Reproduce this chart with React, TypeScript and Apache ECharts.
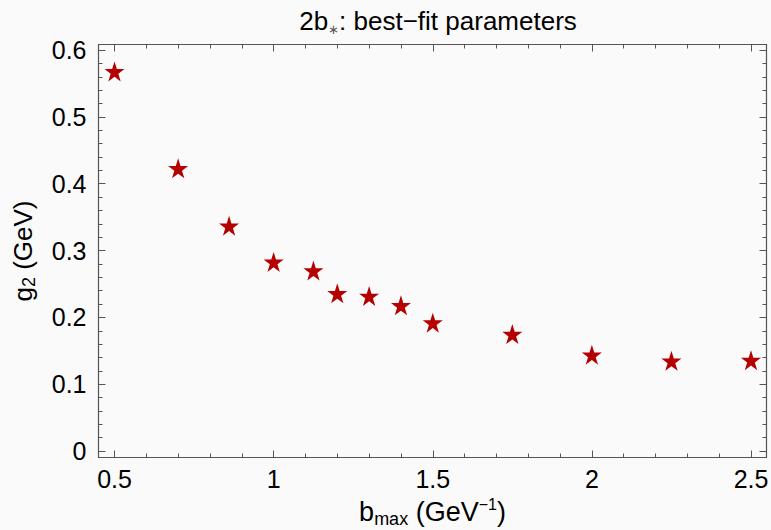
import React, { useEffect, useRef } from "react";
import * as echarts from "echarts";

const bMax = [0.5, 0.7, 0.86, 1.0, 1.125, 1.2, 1.3, 1.4, 1.5, 1.75, 2.0, 2.25, 2.5];
const g2 = [0.568, 0.423, 0.337, 0.283, 0.270, 0.236, 0.232, 0.218, 0.192, 0.175, 0.144, 0.135, 0.136];

const xMajorTicks = [0.5, 1, 1.5, 2, 2.5];
const yMajorTicks = [0, 0.1, 0.2, 0.3, 0.4, 0.5, 0.6];

const X_MIN = 0.4497;
const X_MAX = 2.5487;
const Y_MIN = -0.0096;
const Y_MAX = 0.6083;

const steps = (from: number, to: number, step: number) => {
  const out: number[] = [];
  const n = Math.round((to - from) / step);
  for (let i = 0; i <= n; i++) out.push(Math.round((from + i * step) * 1000) / 1000);
  return out;
};
const xMinorTicks = steps(0.5, 2.5, 0.1);
const yMinorTicks = steps(0, 0.6, 0.02);

const FONT = "Liberation Sans, Arial, sans-serif";
const FRAME = "#555555";

export default function App() {
  const ref = useRef<HTMLDivElement>(null);
  useEffect(() => {
    if (!ref.current) return;
    const chart = echarts.init(ref.current, undefined, { renderer: "svg" });

    const mkX = (position: "bottom" | "top", ticks: number[], len: number, labels: boolean) => ({
      type: "value",
      position,
      min: X_MIN,
      max: X_MAX,
      axisLine: { show: false, onZero: false },
      splitLine: { show: false },
      axisTick: { show: true, inside: true, length: len, customValues: ticks, lineStyle: { color: FRAME, width: 1 } },
      axisLabel: labels
        ? {
            show: true,
            customValues: xMajorTicks,
            margin: 9,
            color: "#000",
            fontSize: 25,
            fontFamily: FONT,
            formatter: (v: number) => String(v),
          }
        : { show: false },
    });
    const mkY = (position: "left" | "right", ticks: number[], len: number, labels: boolean) => ({
      type: "value",
      position,
      min: Y_MIN,
      max: Y_MAX,
      axisLine: { show: false, onZero: false },
      splitLine: { show: false },
      axisTick: { show: true, inside: true, length: len, customValues: ticks, lineStyle: { color: FRAME, width: 1 } },
      axisLabel: labels
        ? {
            show: true,
            customValues: yMajorTicks,
            margin: 12,
            color: "#000",
            fontSize: 25,
            fontFamily: FONT,
            formatter: (v: number) => String(v),
          }
        : { show: false },
    });

    const xAxes: any[] = [
      mkX("bottom", xMajorTicks, 7, true),
      mkX("bottom", xMinorTicks, 4, false),
      mkX("top", xMajorTicks, 7, false),
      mkX("top", xMinorTicks, 4, false),
    ];
    xAxes[0].name = "{a|b}{s|max}{a| (GeV}{p|−1}{a|)}";
    xAxes[0].nameLocation = "middle";
    xAxes[0].nameGap = 36;
    xAxes[0].nameTextStyle = {
      color: "#000",
      fontFamily: FONT,
      rich: {
        a: { fontSize: 27, fontFamily: FONT, color: "#000", lineHeight: 30 },
        s: { fontSize: 18, fontFamily: FONT, color: "#000", verticalAlign: "bottom", lineHeight: 24 },
        p: { fontSize: 16, fontFamily: FONT, color: "#000", verticalAlign: "top", lineHeight: 32 },
      },
    };
    const yAxes: any[] = [
      mkY("left", yMajorTicks, 7, true),
      mkY("left", yMinorTicks, 4, false),
      mkY("right", yMajorTicks, 7, false),
      mkY("right", yMinorTicks, 4, false),
    ];
    yAxes[0].name = "{a|g}{s|2}{a| (GeV)}";
    yAxes[0].nameLocation = "middle";
    yAxes[0].nameGap = 61;
    yAxes[0].nameRotate = 90;
    yAxes[0].nameTextStyle = {
      color: "#000",
      fontFamily: FONT,
      rich: {
        a: { fontSize: 26, fontFamily: FONT, color: "#000", lineHeight: 30 },
        s: { fontSize: 18, fontFamily: FONT, color: "#000", verticalAlign: "bottom", lineHeight: 24 },
      },
    };

    chart.setOption({
      animation: false,
      backgroundColor: "#fafafa",
      title: {
        text: "{a|2b}{s|∗}{a|: best−fit parameters}",
        left: 433,
        textAlign: "center",
        top: 1,
        textStyle: {
          fontWeight: "normal",
          rich: {
            a: { fontSize: 26, fontWeight: "normal", fontFamily: FONT, color: "#000", lineHeight: 30 },
            s: { fontSize: 13, fontWeight: "normal", fontFamily: FONT, color: "#555", verticalAlign: "bottom", lineHeight: 20 },
          },
        },
      },
      grid: {
        left: 98.5,
        right: 4.5,
        top: 44.5,
        bottom: 72.5,
        containLabel: false,
        outerBoundsMode: "none",
        show: true,
        borderColor: FRAME,
        borderWidth: 1.2,
        backgroundColor: "transparent",
      },
      xAxis: xAxes,
      yAxis: yAxes,
      series: [
        {
          type: "scatter",
          xAxisIndex: 0,
          yAxisIndex: 0,
          symbol: "path://M50,0 L61.8,36.2 L100,36.2 L69.1,58.6 L80.9,95.1 L50,72.7 L19.1,95.1 L30.9,58.6 L0,36.2 L38.2,36.2 Z",
          symbolSize: 20,
          itemStyle: { color: "#b40000", opacity: 1 },
          data: bMax.map((x, i) => [x, g2[i]]),
        },
      ],
    });
    return () => chart.dispose();
  }, []);
  return (
    <div
      ref={ref}
      style={{ position: "fixed", left: 0, top: 0, width: 771, height: 530 }}
    />
  );
}
